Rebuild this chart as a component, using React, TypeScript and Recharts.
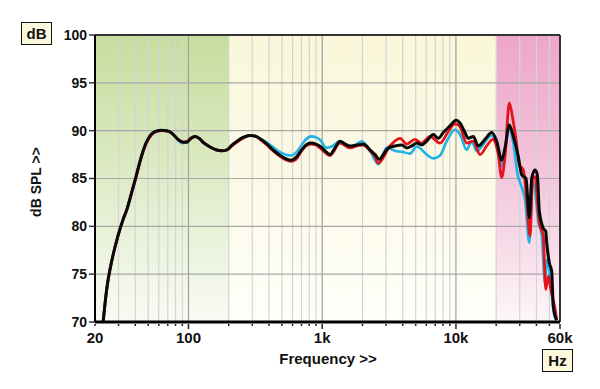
import React from 'react';
import { LineChart, Line, XAxis, YAxis, ReferenceArea, ReferenceLine, Label } from 'recharts';

const blackFreq = [23, 23.8, 24.8, 25.9, 27.3, 29.7, 32.4, 34.7, 37.2, 40.5, 44.2, 48.1, 52.5, 57.2, 63.4, 69.1, 74, 79.3, 85, 91, 97.5, 104.4, 111.9, 119.9, 130.7, 144.9, 160.6, 178.1, 194.2, 211.6, 230.7, 255.7, 288.5, 319.8, 348.5, 386.6, 428.5, 475.3, 527, 584.5, 636.8, 694, 756.6, 824.8, 898.6, 980, 1068, 1144, 1247, 1358, 1481, 1614, 1811, 2029, 2277, 2482, 2673, 2863, 3121, 3502, 3930, 4283, 4669, 5089, 5546, 6046, 6772, 7382, 8045, 9029, 10012, 10725, 11690, 12373, 13487, 14697, 16494, 18510, 20174, 21990, 23276, 25070, 26853, 29264, 31031, 33412, 35372, 36860, 39018, 40594, 42020, 45009, 46904, 47722, 49904, 52018, 53476, 56694];
const blackDb = [70, 72, 74, 75.5, 77, 79, 80.7, 81.8, 83.3, 85.2, 87.2, 88.7, 89.6, 89.95, 90.05, 90.0, 89.8, 89.4, 89.0, 88.8, 88.8, 89.2, 89.4, 89.2, 88.7, 88.3, 88.0, 87.9, 88.0, 88.5, 88.9, 89.3, 89.5, 89.4, 89.1, 88.6, 88.0, 87.5, 87.1, 86.9, 87.2, 87.9, 88.5, 88.7, 88.6, 88.3, 87.8, 87.5, 88.2, 88.9, 88.6, 88.4, 88.5, 88.6, 88.0, 87.5, 87.0, 87.5, 88.2, 88.4, 88.5, 88.2, 88.4, 88.7, 88.5, 88.9, 89.6, 89.2, 89.8, 90.5, 91.1, 90.8, 89.8, 89.2, 89.4, 88.4, 89.1, 89.8, 88.9, 86.9, 88.2, 90.6, 89.4, 87.3, 85.4, 85.0, 80.9, 85.0, 85.9, 85.4, 81.6, 79.8, 79.5, 78.3, 76.2, 75.3, 71.6, 70.2];

const redFreq = [23, 23.8, 24.8, 25.9, 27.3, 29.7, 32.4, 34.7, 37.2, 40.5, 44.2, 48.1, 52.5, 57.2, 63.4, 69.1, 74, 79.3, 85, 91, 97.5, 104.4, 111.9, 119.9, 130.7, 144.9, 160.6, 178.1, 194.2, 211.6, 230.7, 255.7, 288.5, 319.8, 348.5, 386.6, 428.5, 475.3, 527, 584.5, 636.8, 694, 756.6, 824.8, 898.6, 962.7, 1144, 1358, 1614, 1811, 2029, 2277, 2482, 2628, 3213, 3816, 4283, 4941, 5546, 6400, 7601, 8768, 9840, 10725, 12038, 13487, 15133, 16982, 18832, 20736, 21990, 23276, 25070, 26576, 28125, 29771, 31895, 33813, 35798, 37497, 39018, 42020, 45009, 46904, 49152, 51220, 55165, 56694];
const redDb = [70, 72, 74, 75.5, 77, 79, 80.7, 81.8, 83.3, 85.1, 87.1, 88.6, 89.5, 89.9, 90.0, 89.95, 89.8, 89.4, 89.0, 88.8, 88.9, 89.2, 89.4, 89.2, 88.7, 88.3, 88.0, 87.9, 88.0, 88.4, 88.8, 89.2, 89.5, 89.4, 89.0, 88.5, 87.9, 87.4, 87.0, 86.8, 87.0, 87.8, 88.4, 88.6, 88.5, 88.2, 87.4, 88.7, 88.2, 88.4, 88.5, 87.9, 87.3, 86.6, 88.4, 89.2, 88.6, 89.1, 88.7, 89.4, 88.7, 89.9, 90.7, 90.4, 88.7, 88.9, 87.5, 88.4, 89.1, 87.5, 85.1, 87.3, 92.9, 91.3, 89.1, 86.4, 85.9, 82.8, 79.0, 85.0, 85.2, 80.4, 79.0, 73.4, 74.8, 73.4, 71.3, 70.2];

const blueFreq = [23, 23.8, 24.8, 25.9, 27.3, 29.7, 32.4, 34.7, 37.2, 40.5, 44.2, 48.1, 52.5, 57.2, 63.4, 69.1, 74, 79.3, 85, 91, 97.5, 104.4, 111.9, 119.9, 130.7, 144.9, 160.6, 178.1, 194.2, 211.6, 230.7, 255.7, 288.5, 319.8, 348.5, 386.6, 428.5, 475.3, 527, 584.5, 636.8, 694, 756.6, 824.8, 898.6, 962.7, 1080, 1178, 1358, 1614, 1811, 1974, 2277, 2628, 3036, 3606, 3930, 4534, 5089, 6046, 6772, 7601, 8529, 9840, 10725, 12038, 13123, 14300, 15582, 18510, 20174, 21990, 23276, 25070, 26853, 28760, 31189, 32841, 35372, 37239, 39018, 41300, 43780, 46345, 47722, 50518, 54120, 56020];
const blueDb = [70, 72, 74, 75.5, 77, 79, 80.7, 81.8, 83.3, 85.2, 87.2, 88.7, 89.6, 89.95, 90.05, 90.0, 89.8, 89.4, 88.9, 88.7, 88.8, 89.2, 89.4, 89.2, 88.7, 88.3, 88.0, 87.9, 88.0, 88.5, 88.9, 89.3, 89.5, 89.4, 89.1, 88.75, 88.3, 87.8, 87.5, 87.4, 87.7, 88.4, 89.1, 89.4, 89.3, 89.05, 88.2, 88.35, 88.9, 88.35, 88.6, 88.9, 87.9, 86.5, 88.2, 87.85, 87.8, 87.6, 88.35, 87.5, 87.1, 87.4, 88.9, 90.1, 89.6, 88.0, 88.9, 87.85, 88.35, 89.5, 88.5, 86.3, 88.0, 90.3, 88.7, 85.6, 84.0, 82.8, 78.3, 84.7, 83.8, 80.5, 79.1, 74.1, 76.5, 74.8, 70.9, 70.2];

const xTicks = [20, 30, 40, 50, 60, 70, 80, 90, 100, 200, 300, 400, 500, 600, 700, 800, 900, 1000, 2000, 3000, 4000, 5000, 6000, 7000, 8000, 9000, 10000, 20000, 30000, 40000, 50000, 60000];
const xLabelValues = [20, 100, 1000, 10000, 60000];
const xLabelText = ['20', '100', '1k', '10k', '60k'];
const gridMajor = [100, 1000, 10000];
const gridMinor = [30, 40, 50, 60, 70, 80, 90, 200, 300, 400, 500, 600, 700, 800, 900, 2000, 3000, 4000, 5000, 6000, 7000, 8000, 9000, 20000, 30000, 40000, 50000];
const yTicks = [70, 75, 80, 85, 90, 95, 100];
const yGrid = [75, 80, 85, 90, 95];

const toData = (fs: number[], vs: number[]) => fs.map((f, i) => ({ f, v: vs[i] }));
const blackData = toData(blackFreq, blackDb);
const redData = toData(redFreq, redDb);
const blueData = toData(blueFreq, blueDb);

const FONT = '"Liberation Sans", Arial, sans-serif';

const FreqTick = (props: any) => {
  const { x, y, payload } = props;
  const v = payload.value;
  const idx = xLabelValues.indexOf(v);
  const major = idx >= 0 && v !== 20;
  return (
    <g>
      <line x1={x} x2={x} y1={y + 2} y2={y + (major ? 7 : 4)} stroke="#222" strokeWidth={1.5} />
      {idx >= 0 && (
        <text x={x} y={y + 21} textAnchor="middle" fill="#111" fontSize={15} fontWeight="bold" fontFamily={FONT}>
          {xLabelText[idx]}
        </text>
      )}
    </g>
  );
};

const boxStyle: React.CSSProperties = {
  position: 'absolute',
  width: 29,
  height: 21,
  border: '1.5px solid #111',
  background: '#fcf8dc',
  fontFamily: FONT,
  fontWeight: 'bold',
  fontSize: 15,
  lineHeight: '21px',
  textAlign: 'center',
  color: '#111',
};

export default function App() {
  return (
    <div style={{ position: 'absolute', left: 0, top: 0, width: 600, height: 389, background: '#fff' }}>
      <LineChart width={600} height={389} margin={{ top: 35, right: 40, bottom: 0, left: 0 }} style={{ fontFamily: FONT }}>
        <defs>
          <linearGradient id="gGreen" x1="0" y1="0" x2="0" y2="1">
            <stop offset="0" stopColor="#c6dd9f" />
            <stop offset="0.4" stopColor="#d9e8bd" />
            <stop offset="0.75" stopColor="#ecf3df" />
            <stop offset="1" stopColor="#f8fbf3" />
          </linearGradient>
          <linearGradient id="gYellow" x1="0" y1="0" x2="0" y2="1">
            <stop offset="0" stopColor="#faf7d9" />
            <stop offset="0.6" stopColor="#fcfae9" />
            <stop offset="1" stopColor="#fffffb" />
          </linearGradient>
          <linearGradient id="gPink" x1="0" y1="0" x2="0" y2="1">
            <stop offset="0" stopColor="#eda6c9" />
            <stop offset="0.4" stopColor="#f2bfd8" />
            <stop offset="0.75" stopColor="#f8dde9" />
            <stop offset="1" stopColor="#fdf7fa" />
          </linearGradient>
        </defs>
        <ReferenceArea x1={20} x2={200} y1={70} y2={100} fill="url(#gGreen)" fillOpacity={1} stroke="none" />
        <ReferenceArea x1={200} x2={20000} y1={70} y2={100} fill="url(#gYellow)" fillOpacity={1} stroke="none" />
        <ReferenceArea x1={20000} x2={60000} y1={70} y2={100} fill="url(#gPink)" fillOpacity={1} stroke="none" />
        {gridMinor.map((g) => (
          <ReferenceLine key={'m' + g} x={g} stroke="#d4d4d4" strokeWidth={1.2} />
        ))}
        {gridMajor.map((g) => (
          <ReferenceLine key={'M' + g} x={g} stroke="#a0a0a0" strokeWidth={1.2} />
        ))}
        {yGrid.map((g) => (
          <ReferenceLine key={'y' + g} y={g} stroke="#a8a8a8" strokeWidth={1.2} />
        ))}
        <ReferenceLine y={100} stroke="#333" strokeWidth={2} />
        <ReferenceLine x={60000} stroke="#333" strokeWidth={2} />
        <XAxis
          type="number"
          dataKey="f"
          scale="log"
          domain={[20, 60000]}
          allowDataOverflow
          ticks={xTicks}
          interval={0}
          tick={<FreqTick />}
          tickLine={false}
          tickSize={0}
          tickMargin={0}
          height={67}
          axisLine={{ stroke: '#000', strokeWidth: 3 }}
        >
          <Label
            content={() => (
              <text x={328} y={364} textAnchor="middle" fill="#111" fontSize={15} fontWeight="bold" fontFamily={FONT}>
                Frequency &gt;&gt;
              </text>
            )}
          />
        </XAxis>
        <YAxis
          type="number"
          domain={[70, 100]}
          allowDataOverflow
          ticks={yTicks}
          interval={0}
          width={95}
          tickSize={6}
          tickMargin={2}
          tickLine={{ stroke: '#333', strokeWidth: 1.5 }}
          axisLine={{ stroke: '#000', strokeWidth: 2 }}
          tick={{ fill: '#111', fontSize: 14, fontWeight: 'bold', fontFamily: FONT }}
        >
          <Label
            content={() => (
              <text x={36} y={182} transform="rotate(-90 36 182)" textAnchor="middle" dominantBaseline="central" fill="#111" fontSize={14} fontWeight="bold" fontFamily={FONT}>
                dB SPL &gt;&gt;
              </text>
            )}
          />
        </YAxis>
        <Line data={blueData} dataKey="v" type="monotone" stroke="#1fb2e4" strokeWidth={2.6} dot={false} isAnimationActive={false} />
        <Line data={redData} dataKey="v" type="monotone" stroke="#e5141c" strokeWidth={2.8} dot={false} isAnimationActive={false} />
        <Line data={blackData} dataKey="v" type="monotone" stroke="#0a0a0a" strokeWidth={3} dot={false} isAnimationActive={false} />
      </LineChart>
      <div style={{ ...boxStyle, left: 21, top: 22 }}>dB</div>
      <div style={{ ...boxStyle, left: 542, top: 349 }}>Hz</div>
    </div>
  );
}
